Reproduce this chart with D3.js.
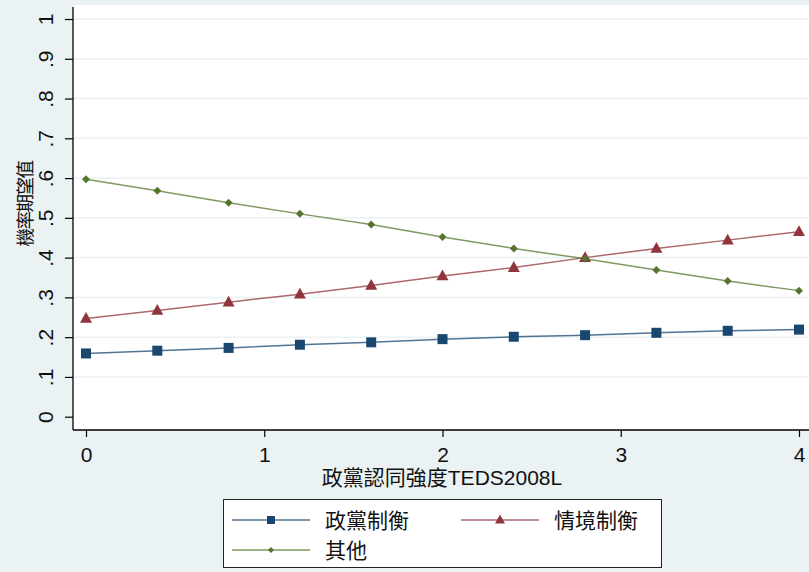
<!DOCTYPE html>
<html>
<head>
<meta charset="utf-8">
<script src="https://cdnjs.cloudflare.com/ajax/libs/d3/7.8.5/d3.min.js"></script>
<style>
  html, body { margin: 0; padding: 0; background: #eaf2f3; }
  svg { display: block; }
  text { font-family: "Liberation Sans", Arial, "Noto Sans CJK TC", sans-serif; fill: #111; }
</style>
</head>
<body>
<svg id="chart" width="809" height="572"></svg>
<script>
// Party identification strength (x) and predicted probabilities per outcome
const xValues = [0, 0.4, 0.8, 1.2, 1.6, 2, 2.4, 2.8, 3.2, 3.6, 4];
const partyBalance = [0.159, 0.166, 0.173, 0.181, 0.187, 0.195, 0.201, 0.205, 0.211, 0.216, 0.219];
const situationalBalance = [0.247, 0.267, 0.288, 0.308, 0.330, 0.354, 0.375, 0.400, 0.423, 0.444, 0.465];
const otherOutcome = [0.597, 0.568, 0.538, 0.510, 0.483, 0.452, 0.423, 0.397, 0.369, 0.341, 0.317];
const seriesNames = ["政黨制衡", "情境制衡", "其他"];
const xTicks = [0, 1, 2, 3, 4];
const yTicks = [0, 0.1, 0.2, 0.3, 0.4, 0.5, 0.6, 0.7, 0.8, 0.9, 1];
const yTickLabels = ["0", ".1", ".2", ".3", ".4", ".5", ".6", ".7", ".8", ".9", "1"];
const xTitle = "政黨認同強度TEDS2008L";
const yTitle = "機率期望值";

const series = [
  { name: seriesNames[0], values: partyBalance, color: "#1a476f", marker: "square" },
  { name: seriesNames[1], values: situationalBalance, color: "#90353b", marker: "triangle" },
  { name: seriesNames[2], values: otherOutcome, color: "#55752f", marker: "diamond" }
];

const svg = d3.select("#chart");
const W = 809, H = 572;
const plot = { left: 73, right: 809, top: 5, bottom: 430 };

svg.append("rect").attr("width", W).attr("height", H).attr("fill", "#eaf2f3");
svg.append("rect")
  .attr("x", plot.left).attr("y", plot.top)
  .attr("width", plot.right - plot.left).attr("height", plot.bottom - plot.top)
  .attr("fill", "#ffffff");

const x = d3.scaleLinear().domain([0, 4]).range([86, 799]);
const y = d3.scaleLinear().domain([0, 1]).range([416.7, 19]);

// horizontal grid
svg.append("g").selectAll("line").data(yTicks.slice(1)).join("line")
  .attr("x1", plot.left + 1).attr("x2", plot.right)
  .attr("y1", d => y(d)).attr("y2", d => y(d))
  .attr("stroke", "#eaf2f3").attr("stroke-width", 1.5);

// y axis
const yAxis = d3.axisLeft(y).tickValues(yTicks).tickSize(8).tickSizeOuter(0)
  .tickFormat((d, i) => yTickLabels[i]);
const gy = svg.append("g").attr("transform", `translate(${plot.left},0)`).call(yAxis);
gy.select(".domain").remove();
gy.selectAll(".tick line").attr("stroke", "#000").attr("stroke-width", 1.2);
gy.selectAll(".tick text")
  .attr("x", null).attr("dy", null)
  .attr("text-anchor", "middle")
  .attr("transform", "translate(-20,0) rotate(-90)")
  .style("font-size", "21px")
  .style("font-family", "'Liberation Sans', Arial, sans-serif")
  .attr("fill", "#111");

// x axis
const xAxis = d3.axisBottom(x).tickValues(xTicks).tickSize(7).tickSizeOuter(0)
  .tickFormat(d3.format("d"));
const gx = svg.append("g").attr("transform", `translate(0,${plot.bottom})`).call(xAxis);
gx.select(".domain").remove();
gx.selectAll(".tick line").attr("stroke", "#000").attr("stroke-width", 1.2);
gx.selectAll(".tick text")
  .attr("y", 32).attr("dy", null)
  .style("font-size", "21px")
  .style("font-family", "'Liberation Sans', Arial, sans-serif")
  .attr("fill", "#111");

// axis lines
svg.append("line").attr("x1", plot.left).attr("x2", plot.left)
  .attr("y1", 7).attr("y2", plot.bottom).attr("stroke", "#000").attr("stroke-width", 1.3);
svg.append("line").attr("x1", plot.left).attr("x2", plot.right)
  .attr("y1", plot.bottom).attr("y2", plot.bottom).attr("stroke", "#000").attr("stroke-width", 1.3);

// axis titles
svg.append("text").attr("x", 442).attr("y", 485)
  .attr("text-anchor", "middle").style("font-size", "21px").text(xTitle);
svg.append("text")
  .attr("transform", "translate(32,204) rotate(-90)")
  .attr("text-anchor", "middle").style("font-size", "18.5px")
  .style("letter-spacing", "-1.5px").text(yTitle);

// marker shapes
function markerPath(type, s) {
  if (type === "square") return d3.symbol(d3.symbolSquare, s * s)();
  if (type === "triangle") {
    const h = s * 0.9, w = s;
    return `M0,${-h * 0.6}L${w / 2},${h * 0.4}L${-w / 2},${h * 0.4}Z`;
  }
  const r = s / 2;
  return `M0,${-r}L${r},0L0,${r}L${-r},0Z`;
}
const markerSize = { square: 10, triangle: 12, diamond: 8 };

const line = d3.line().x((d, i) => x(xValues[i])).y(d => y(d));

series.forEach(s => {
  const g = svg.append("g");
  g.append("path").datum(s.values).attr("d", line)
    .attr("fill", "none").attr("stroke", s.color).attr("stroke-width", 1.5)
    .attr("stroke-opacity", 0.75);
  g.selectAll("path.m").data(s.values).join("path").attr("class", "m")
    .attr("transform", (d, i) => `translate(${x(xValues[i])},${y(d)})`)
    .attr("d", markerPath(s.marker, markerSize[s.marker]))
    .attr("fill", s.color);
});

// legend
const lg = svg.append("g");
lg.append("rect").attr("x", 223.5).attr("y", 499.5).attr("width", 438).attr("height", 68)
  .attr("fill", "#ffffff").attr("stroke", "#222").attr("stroke-width", 1);
const legendPos = [
  { lx: 232, ly: 520 },
  { lx: 461, ly: 520 },
  { lx: 232, ly: 550 }
];
const legendMarkerSize = { square: 8, triangle: 10, diamond: 6 };
series.forEach((s, i) => {
  const p = legendPos[i];
  lg.append("line").attr("x1", p.lx).attr("x2", p.lx + 78)
    .attr("y1", p.ly).attr("y2", p.ly)
    .attr("stroke", s.color).attr("stroke-width", 1.5).attr("stroke-opacity", 0.75);
  lg.append("path").attr("transform", `translate(${p.lx + 39},${p.ly})`)
    .attr("d", markerPath(s.marker, legendMarkerSize[s.marker])).attr("fill", s.color);
  lg.append("text").attr("x", p.lx + 93).attr("y", p.ly)
    .attr("dominant-baseline", "central")
    .style("font-size", "21px").text(s.name);
});
</script>
</body>
</html>
